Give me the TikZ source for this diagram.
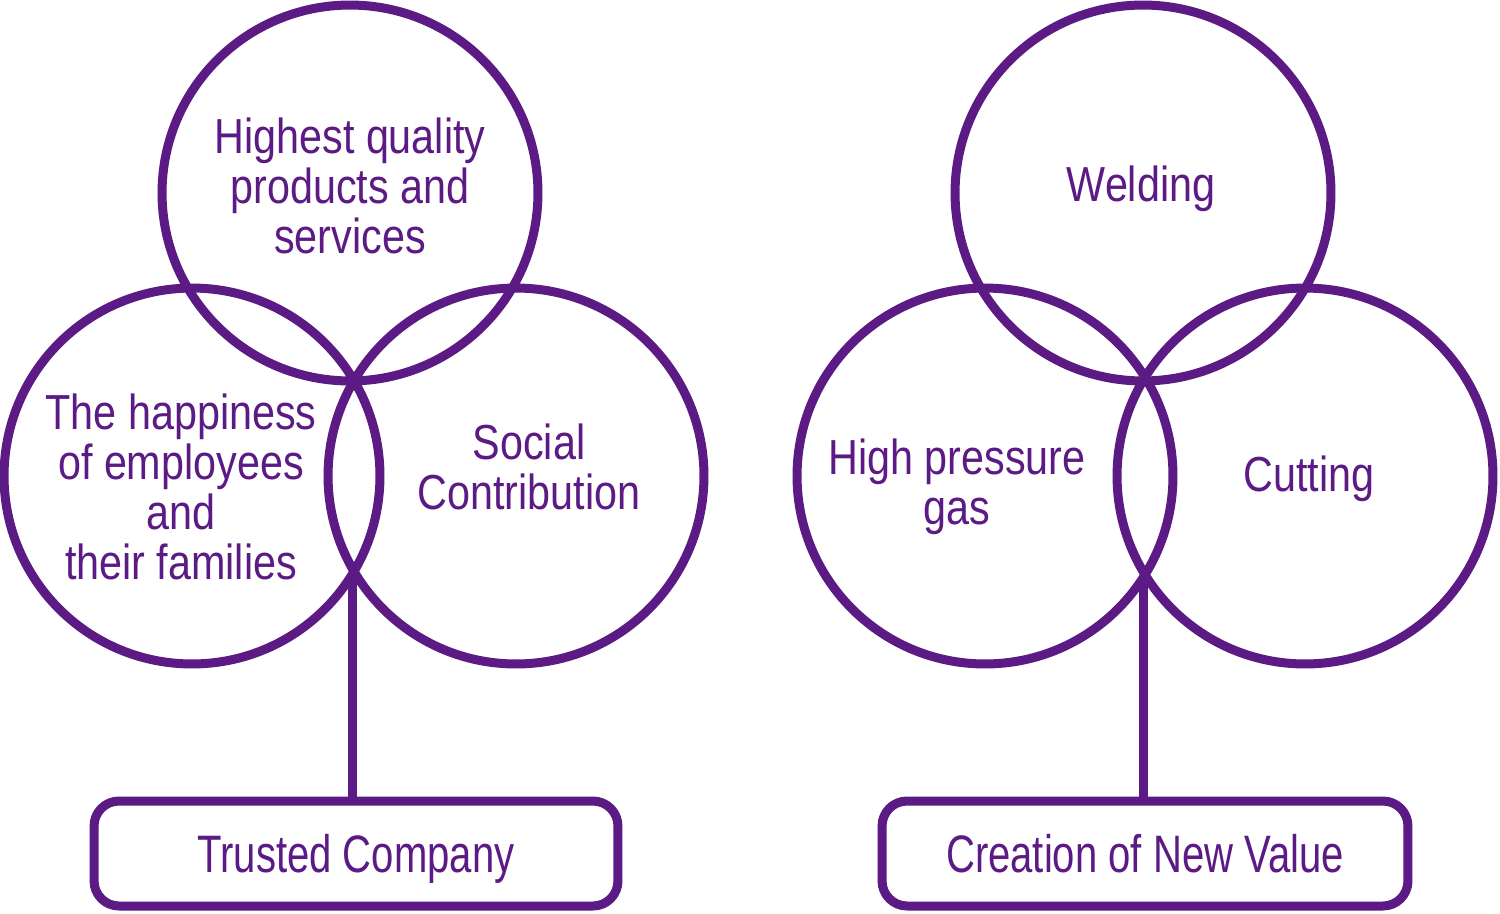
\documentclass[tikz,border=0pt]{standalone}
\usepackage{fontspec}
\setmainfont{Liberation Sans}[FakeStretch=0.84]
\newfontfamily\goalfont{Liberation Sans}[FakeStretch=0.76]
\definecolor{valuepurple}{HTML}{5B1A84}

\begin{document}
\begin{tikzpicture}[x=0.02cm,y=-0.02cm,
    ring/.style={circle,draw=valuepurple,line width=0.18cm,minimum size=7.52cm,inner sep=0pt},
    ringtext/.style={text=valuepurple,align=center,inner sep=0pt,font={\fontsize{28}{28.5}\selectfont}},
    goalbox/.style={draw=valuepurple,line width=0.18cm,rounded corners=0.5cm,text=valuepurple,
        text depth=0pt,inner sep=0pt,minimum height=2.1cm,font={\goalfont\fontsize{30}{32}\selectfont}},
    stem/.style={draw=valuepurple,line width=0.18cm}]
    \useasboundingbox (0,0) rectangle (1500,913);
    % left group
    \foreach \name/\pos in {quality/{350,193},people/{192,476},social/{516,476}}{
        \node[ring] (\name) at (\pos) {};
    }
    \node[ringtext] (qualitytext) at (350,186) {Highest quality\\products and\\services};
    \node[ringtext] (peopletext) at (181,487) {The happiness\\of employees\\and\\their families};
    \node[ringtext] (socialtext) at (529,467) {Social\\Contribution};
    \node[goalbox,minimum width=10.48cm] (trusted) at (356,853.5) {Trusted Company};
    \coordinate (lowL) at (352,572);
    \draw[stem] (lowL) -- (lowL |- trusted.north);
    % right group
    \foreach \name/\pos in {welding/{1143,193},gas/{985,476},cutting/{1305,476}}{
        \node[ring] (\name) at (\pos) {};
    }
    \node[ringtext] (weldingtext) at (1141,189) {Welding};
    \node[ringtext] (gastext) at (957,487) {High pressure\\gas};
    \node[ringtext] (cuttingtext) at (1309,479) {Cutting};
    \node[goalbox,minimum width=10.52cm] (newvalue) at (1145,853.5) {Creation of New Value};
    \coordinate (lowR) at (1143,576);
    \draw[stem] (lowR) -- (lowR |- newvalue.north);
\end{tikzpicture}
\end{document}
